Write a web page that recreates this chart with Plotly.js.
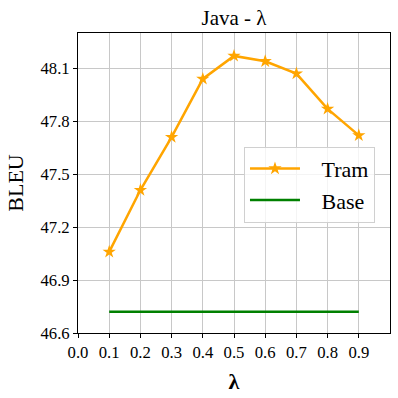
<!DOCTYPE html>
<html>
<head>
<meta charset="utf-8">
<script src="https://cdn.plot.ly/plotly-3.0.1.min.js"></script>
<style>html,body{margin:0;padding:0;background:#fff;}#chart{width:398px;height:398px;}</style>
</head>
<body>
<div id="chart"></div>
<script>
const lambdas = [0.1, 0.2, 0.3, 0.4, 0.5, 0.6, 0.7, 0.8, 0.9];
const tramBleu = [47.06, 47.41, 47.71, 48.04, 48.17, 48.14, 48.07, 47.87, 47.72];
const baseBleu = [46.72, 46.72, 46.72, 46.72, 46.72, 46.72, 46.72, 46.72, 46.72];
const seriesNames = ['Tram', 'Base'];
const xTicks = [0.0, 0.1, 0.2, 0.3, 0.4, 0.5, 0.6, 0.7, 0.8, 0.9];
const xTickLabels = ['0.0','0.1','0.2','0.3','0.4','0.5','0.6','0.7','0.8','0.9'];
const yTicks = [46.6, 46.9, 47.2, 47.5, 47.8, 48.1];
const yTickLabels = ['46.6','46.9','47.2','47.5','47.8','48.1'];

const font = 'Liberation Serif';
const pad = '\u00a0\u00a0\u00a0';
const traces = [
  {x: lambdas, y: tramBleu, name: pad + seriesNames[0], mode: 'lines+markers',
   line: {color: '#FFA500', width: 2.5},
   marker: {symbol: 'star', size: 10, color: '#FFA500'}},
  {x: lambdas, y: baseBleu, name: pad + seriesNames[1], mode: 'lines',
   line: {color: '#008000', width: 2.5}}
];
const layout = {
  width: 398, height: 398,
  margin: {l: 78, r: 8, t: 33, b: 65},
  paper_bgcolor: '#fff', plot_bgcolor: '#fff',
  font: {family: font, color: '#000', size: 16.7},
  title: {text: 'Java - λ', font: {family: font, size: 21, color: '#000'}, xref: 'paper', x: 0.5, xanchor: 'center', y: 0.955, yanchor: 'middle'},
  xaxis: {range: [0, 1.0], tickvals: xTicks, ticktext: xTickLabels,
    showgrid: true, gridcolor: '#c8c8c8', gridwidth: 1,
    showline: true, linecolor: '#000', linewidth: 1, mirror: true,
    ticks: 'outside', ticklen: 4, tickcolor: '#000', zeroline: false,
    tickfont: {family: font, size: 16.7},
    title: {text: '<b>λ</b>', font: {family: font, size: 22}, standoff: 12}},
  yaxis: {range: [46.6, 48.3], tickvals: yTicks, ticktext: yTickLabels,
    showgrid: true, gridcolor: '#c8c8c8', gridwidth: 1,
    showline: true, linecolor: '#000', linewidth: 1, mirror: true,
    ticks: 'outside', ticklen: 4, tickcolor: '#000', zeroline: false,
    tickfont: {family: font, size: 16.7},
    title: {text: 'BLEU', font: {family: font, size: 22}, standoff: 10}},
  legend: {x: 0.532, y: 0.621, xanchor: 'left', yanchor: 'top',
    bgcolor: 'rgba(255,255,255,0.8)', bordercolor: '#d0d0d0', borderwidth: 1,
    font: {family: font, size: 22}, itemwidth: 50},
  showlegend: true
};
Plotly.newPlot('chart', traces, layout, {displayModeBar: false, staticPlot: true});
</script>
</body>
</html>
